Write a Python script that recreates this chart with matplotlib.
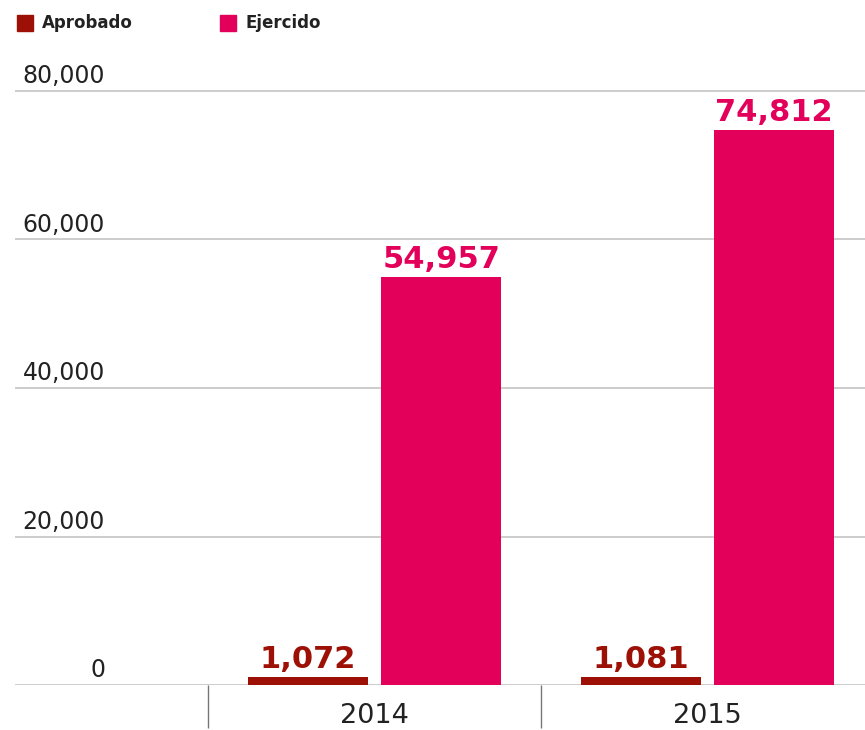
import numpy as np
import matplotlib
matplotlib.use("Agg")
import matplotlib.pyplot as plt
from matplotlib.patches import Rectangle

plt.rcParams['font.family'] = ['DejaVu Sans']

# --- data ---
years = ["2014", "2015"]
aprobado = [1072, 1081]
ejercido = [54957, 74812]
y_ticks = [0, 20000, 40000, 60000, 80000]

c_aprob = '#9c1006'
c_ejer = '#e3005a'
c_grid = '#c4c4c4'

W, H = 865, 730
fig = plt.figure(figsize=(W / 100, H / 100), dpi=100)

# axes box in pixels: x 15..865, y(0)=685, y(80000)=91
ymax = 82000
y0_px, y80_px = 685, 91
px_per_unit = (y0_px - y80_px) / 80000
top_px = y0_px - ymax * px_per_unit
ax = fig.add_axes([15 / W, (H - y0_px) / H, (W - 15) / W, (y0_px - top_px) / H])

x = np.arange(len(years))
bw = 0.36
off = 0.2
b1 = ax.bar(x - off, aprobado, bw, color=c_aprob, zorder=3)
b2 = ax.bar(x + off, ejercido, bw, color=c_ejer, zorder=3)

ax.bar_label(b1, labels=[f"{v:,}" for v in aprobado], padding=2,
             fontsize=22, fontweight='bold', color=c_aprob)
ax.bar_label(b2, labels=[f"{v:,}" for v in ejercido], padding=2,
             fontsize=22, fontweight='bold', color=c_ejer)

ax.set_yticks(y_ticks)
ax.set_yticklabels([])
ax.tick_params(axis='y', length=0)
ax.grid(axis='y', color=c_grid, linewidth=1.2, zorder=0)
ax.set_axisbelow(True)

ax.set_xticks(x)
ax.set_xticklabels(years, fontsize=19.5, color='#222222')
ax.tick_params(axis='x', which='major', length=0, pad=13)
ax.set_xticks([-0.5, 0.5], minor=True)
ax.tick_params(axis='x', which='minor', length=31, width=1, color='#777777')

# limits after ticks so set_xticks doesn't widen them
ax.set_ylim(0, ymax)
ax.set_xlim((15 - 374.5) / 333, (865 - 374.5) / 333)

# y labels sit above the gridlines, right-aligned
for v in y_ticks:
    ax.annotate(f"{v:,}", xy=(90 / 850, v), xycoords=ax.get_yaxis_transform(),
                xytext=(0, 2), textcoords='offset points',
                ha='right', va='bottom', fontsize=17, color='#222222')

for s in ax.spines.values():
    s.set_visible(False)

# legend
legend_items = [("Aprobado", c_aprob, 17), ("Ejercido", c_ejer, 220)]
for name, col, lx in legend_items:
    fig.patches.append(Rectangle((lx / W, (H - 31) / H), 16 / W, 16 / H,
                                 transform=fig.transFigure, color=col))
    fig.text((lx + 25) / W, (H - 23) / H, name, fontsize=12, fontweight='bold',
             color='#222222', va='center', ha='left')

fig.savefig("out.png", dpi=100)
